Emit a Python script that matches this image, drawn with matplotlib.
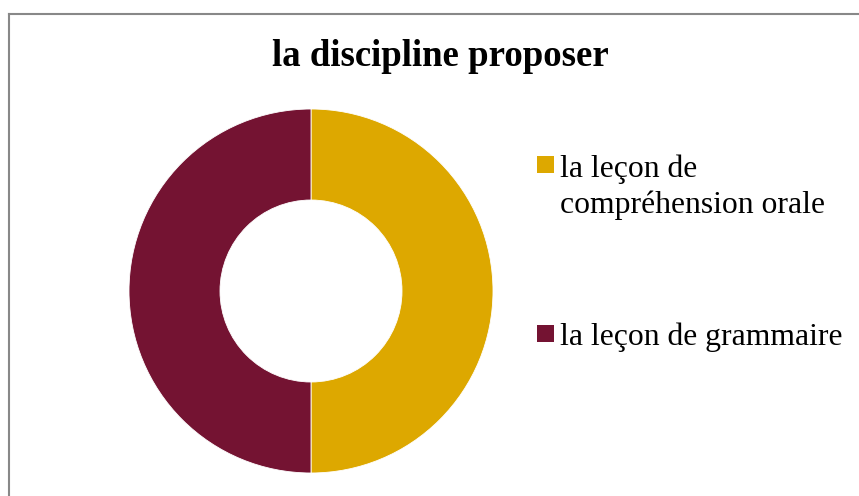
import matplotlib
matplotlib.use("Agg")
import matplotlib.pyplot as plt
from matplotlib.patches import Rectangle
from matplotlib.lines import Line2D

# data
categories = ["la leçon de\ncompréhension orale", "la leçon de grammaire"]
values = [50, 50]
colors = ["#DDA800", "#741332"]
title = "la discipline proposer"

plt.rcParams['font.family'] = ['Liberation Serif', 'DejaVu Serif']

fig = plt.figure(figsize=(8.59, 4.96), dpi=100)

# donut: center (311, 291) px, radius 182 px
cx, cy, r = 311, 291, 182
W, H = 859, 496
ax = fig.add_axes([(cx - r) / W, 1 - (cy + r) / H, 2 * r / W, 2 * r / H])
wedges, _ = ax.pie(values, colors=colors, startangle=90, counterclock=False,
                   radius=1.0, wedgeprops=dict(width=0.5, edgecolor="white", linewidth=0.6))
ax.set_xlim(-1, 1)
ax.set_ylim(-1, 1)
ax.set_aspect("equal")
ax.axis("off")

fig.text(440 / W, 1 - 57 / H, title, ha="center", va="center",
         fontsize=26.5, fontweight="bold")

# legend drawn by hand so the marker sits on the first line
# (va="baseline" sits on the last line, so shift by the extra lines)
legend_y = [165, 334]
line_px = 37
for lab, col, y in zip(categories, colors, legend_y):
    fig.patches.append(Rectangle((537 / W, 1 - (y + 8) / H), 17 / W, 17 / H,
                                 transform=fig.transFigure, facecolor=col,
                                 edgecolor="none"))
    extra = lab.count("\n") * line_px
    fig.text(560 / W, 1 - (y + 11.5 + extra) / H, lab, ha="left", va="baseline",
             fontsize=22.8, linespacing=1.3)

# outer border (top and left only, the rest is cut off)
fig.lines.append(Line2D([8.5 / W, 8.5 / W], [0, 1 - 13.5 / H], transform=fig.transFigure,
                        color="#888888", linewidth=1.5))
fig.lines.append(Line2D([8.5 / W, 858 / W], [1 - 13.5 / H, 1 - 13.5 / H],
                        transform=fig.transFigure, color="#888888", linewidth=1.5))

fig.savefig("out.png", dpi=100)
